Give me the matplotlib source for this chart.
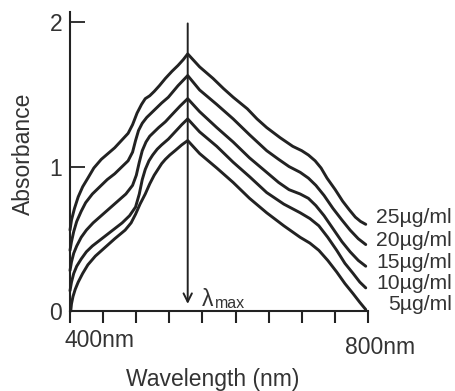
import matplotlib.pyplot as plt
import numpy as np

plt.rcParams['font.family'] = ['Liberation Sans', 'DejaVu Sans']

# Spectra: wavelength (nm) and absorbance for each concentration.
conc_labels = ['25\u00b5g/ml', '20\u00b5g/ml', '15\u00b5g/ml', '10\u00b5g/ml', '5\u00b5g/ml']

wl_25 = [400, 402, 406, 411, 417, 424, 432, 442, 451, 460, 469, 478, 484, 490, 496, 501, 507, 513,
         520, 528, 537, 545, 552, 558,
         574, 592, 606, 619, 638, 651, 664, 682, 699, 711, 720, 729, 737, 745, 756, 766, 775, 783, 790, 797]
abs_25 = [0.56, 0.63, 0.71, 0.79, 0.86, 0.92, 0.99, 1.05, 1.09, 1.13, 1.18, 1.23, 1.29, 1.37, 1.43, 1.47,
          1.49, 1.52, 1.56, 1.61, 1.66, 1.70, 1.74, 1.78,
          1.69, 1.61, 1.54, 1.48, 1.40, 1.33, 1.27, 1.20, 1.14, 1.11, 1.08, 1.04, 0.99, 0.92, 0.84, 0.76,
          0.70, 0.65, 0.62, 0.60]

wl_20 = [400, 402, 405, 409, 415, 421, 430, 440, 450, 460, 470, 478, 484, 488, 492, 497, 503, 509,
         515, 523, 532, 545, 558,
         574, 597, 619, 641, 664, 680, 694, 709, 720, 730, 741, 753, 765, 776, 787, 797]
abs_20 = [0.42, 0.48, 0.55, 0.62, 0.69, 0.75, 0.81, 0.86, 0.91, 0.95, 1.00, 1.04, 1.10, 1.18, 1.25, 1.30,
          1.34, 1.37, 1.40, 1.44, 1.48, 1.56, 1.63,
          1.53, 1.43, 1.33, 1.22, 1.11, 1.05, 1.00, 0.96, 0.92, 0.87, 0.80, 0.71, 0.63, 0.56, 0.50, 0.46]

wl_15 = [400, 402, 405, 409, 415, 422, 431, 442, 453, 464, 475, 484, 489, 493, 497, 502, 507, 513,
         519, 528, 537, 548, 558,
         574, 597, 619, 641, 664, 680, 694, 709, 720, 730, 741, 753, 765, 776, 787, 797]
abs_15 = [0.28, 0.34, 0.40, 0.45, 0.51, 0.56, 0.61, 0.66, 0.71, 0.76, 0.81, 0.87, 0.94, 1.03, 1.11, 1.17,
          1.21, 1.24, 1.27, 1.31, 1.36, 1.42, 1.47,
          1.38, 1.27, 1.17, 1.06, 0.96, 0.89, 0.84, 0.81, 0.78, 0.73, 0.66, 0.57, 0.48, 0.41, 0.35, 0.31]

wl_10 = [400, 402, 405, 409, 415, 422, 430, 440, 450, 460, 470, 480, 488, 493, 497, 501, 506, 511,
         517, 523, 532, 541, 550, 558,
         574, 597, 619, 641, 664, 687, 709, 722, 734, 746, 758, 769, 780, 789, 797]
abs_10 = [0.14, 0.20, 0.26, 0.31, 0.36, 0.41, 0.45, 0.49, 0.53, 0.57, 0.61, 0.66, 0.72, 0.81, 0.91, 0.98,
          1.04, 1.08, 1.12, 1.15, 1.19, 1.24, 1.29, 1.33,
          1.24, 1.14, 1.03, 0.93, 0.82, 0.74, 0.68, 0.64, 0.59, 0.51, 0.42, 0.33, 0.26, 0.20, 0.16]

wl_5 = [401, 402, 404, 407, 411, 417, 424, 434, 447, 460, 474, 482, 488, 494, 501, 507, 513, 518,
        523, 528, 534, 541, 550, 558,
        574, 597, 619, 641, 664, 687, 709, 722, 734, 746, 758, 769, 780, 789, 797]
abs_5 = [0.00, 0.05, 0.10, 0.15, 0.20, 0.26, 0.32, 0.38, 0.44, 0.50, 0.56, 0.61, 0.67, 0.74, 0.81, 0.88,
         0.94, 0.98, 1.02, 1.05, 1.08, 1.11, 1.15, 1.18,
         1.09, 0.99, 0.89, 0.78, 0.68, 0.59, 0.51, 0.47, 0.42, 0.35, 0.27, 0.19, 0.12, 0.06, 0.01]

lambda_max = 558
y_ticks = [0, 1, 2]

curves = [(wl_25, abs_25), (wl_20, abs_20), (wl_15, abs_15), (wl_10, abs_10), (wl_5, abs_5)]
label_dy = [7, 4, 4, 4, 5]  # pixel lift of each end label

fig = plt.figure(figsize=(4.55, 3.91), dpi=100)
ax = fig.add_axes([70 / 455, 80 / 391, 298 / 455, 299 / 391])
ink = '#222222'
txt = '#333333'
fs = 16.5

for (wl, ab), lab, dy in zip(curves, conc_labels, label_dy):
    ax.plot(wl, ab, color=ink, lw=2.1, solid_joinstyle='round', solid_capstyle='round', clip_on=False)
    ax.annotate(lab, xy=(wl[-1], ab[-1]), xytext=(86, dy), textcoords='offset pixels',
                ha='right', va='center', fontsize=15.2, color=txt, annotation_clip=False)

# lambda max arrow
ax.annotate('', xy=(lambda_max, 0.03), xytext=(lambda_max, 2.01),
            arrowprops=dict(arrowstyle='->,head_length=0.6,head_width=0.3', color=ink, lw=1.4))
ax.text(lambda_max + 19, 0.035, '\u03bb', fontsize=fs, color=txt, ha='left', va='baseline')
ax.text(lambda_max + 36, 0.02, 'max', fontsize=11.5, color=txt, ha='left', va='baseline')

ax.set_xlim(400, 800)
ax.set_ylim(0, 2.07)
for side in ['top', 'right']:
    ax.spines[side].set_visible(False)
for side in ['left', 'bottom']:
    ax.spines[side].set_linewidth(1.5)
    ax.spines[side].set_color(ink)

ax.set_xticks(np.linspace(400, 800, 10))
ax.tick_params(axis='x', direction='out', length=8.5, width=1.5, color=ink, labelbottom=False)
ax.set_yticks(y_ticks)
ax.set_yticklabels([str(t) for t in y_ticks])
ax.tick_params(axis='y', direction='in', length=10.5, width=1.3, color=ink, pad=5.5,
               labelsize=fs, labelcolor=txt)

ax.text(-0.017, -0.06, '400nm', transform=ax.transAxes, ha='left', va='top', fontsize=fs, color=txt)
ax.text(0.923, -0.084, '800nm', transform=ax.transAxes, ha='left', va='top', fontsize=fs, color=txt)
ax.text(0.48, -0.19, 'Wavelength (nm)', transform=ax.transAxes, ha='center', va='top',
        fontsize=fs, color=txt)
fig.text(23 / 455, 1 - 154 / 391, 'Absorbance', rotation=90, ha='center', va='center',
         fontsize=fs, color=txt)

fig.savefig('out.png', dpi=100)
